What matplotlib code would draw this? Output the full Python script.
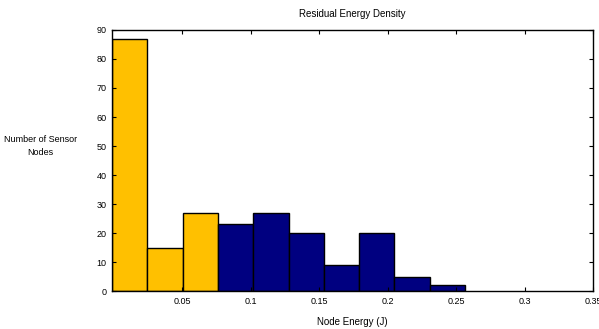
import matplotlib.pyplot as plt
import numpy as np

plt.rcParams['font.family'] = ['Liberation Sans', 'DejaVu Sans']

# Histogram bins (left edges, J) and counts
bin_start = -0.0015
bin_width = 0.0258
counts = [87, 15, 27, 23, 27, 20, 9, 20, 5, 2]
bar_colors = ['#FFC000'] * 3 + ['#000080'] * 7
xticks = [0.05, 0.1, 0.15, 0.2, 0.25, 0.3, 0.35]
xtick_labels = ['0.05', '0.1', '0.15', '0.2', '0.25', '0.3', '0.35']
yticks = [0, 10, 20, 30, 40, 50, 60, 70, 80, 90]

edges = bin_start + bin_width * np.arange(len(counts))

fig = plt.figure(figsize=(5.99, 3.29), dpi=100)
ax = fig.add_axes([0.187, 0.115, 0.803, 0.794])

ax.bar(edges, counts, width=bin_width, align='edge', color=bar_colors,
       edgecolor='black', linewidth=1.0)

ax.set_xlim(bin_start, 0.35)
ax.set_ylim(0, 90)
ax.set_xticks(xticks)
ax.set_xticklabels(xtick_labels)
ax.set_yticks(yticks)
ax.tick_params(direction='in', top=True, right=True, labelsize=6.5, length=3,
               width=0.8, pad=4)
for s in ax.spines.values():
    s.set_linewidth(1.0)

ax.set_title('Residual Energy Density', fontsize=7, pad=9)
ax.set_xlabel('Node Energy (J)', fontsize=7, labelpad=8)
fig.text(0.067, 0.556, 'Number of Sensor\nNodes', fontsize=6.5, ha='center',
         va='center', linespacing=1.6)

plt.savefig('out.png', dpi=100)
